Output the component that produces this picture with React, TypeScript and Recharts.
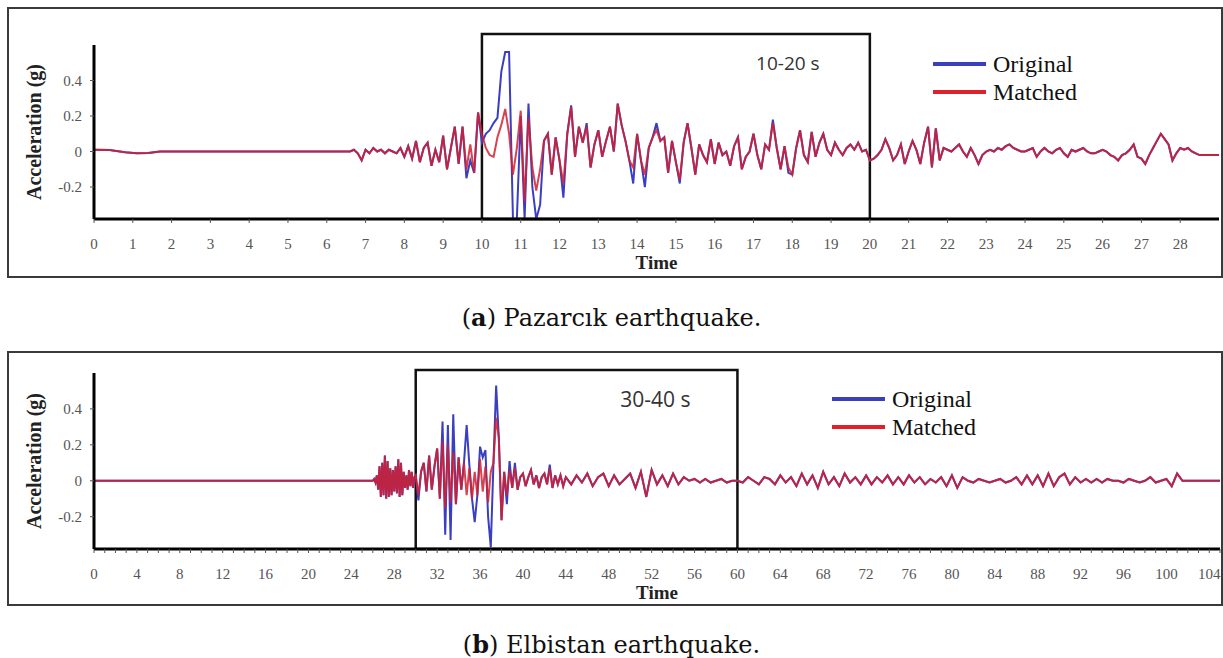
import React from 'react'
import { LineChart, Line, XAxis, YAxis, ReferenceArea, Legend } from 'recharts'

// ---- shared axis values ----
const yTicks = [-0.2, 0, 0.2, 0.4]
const yDomain = [-0.38, 0.6]

// ---- (a) Pazarcık : time 0-29 s ----
const ticksA = [0, 1, 2, 3, 4, 5, 6, 7, 8, 9, 10, 11, 12, 13, 14, 15, 16, 17, 18, 19, 20, 21, 22, 23, 24, 25, 26, 27, 28]
const quietA = [[0, 0.01], [0.4, 0.008], [0.8, -0.004], [1.1, -0.01], [1.4, -0.008], [1.7, 0], [6.5, 0]]
const startA = 6.6
const stepA = 0.1
// matched record, one row per second (10 samples)
const matchedA = [
  0, 0.01, -0.01, -0.05,
  0.01, -0.01, 0.02, 0.0, 0.01, -0.01, 0.01, 0.0, -0.01, 0.02,
  -0.03, 0.03, -0.04, 0.06, -0.06, 0.02, 0.05, -0.08, 0.01, -0.06,
  0.09, -0.1, 0.02, 0.14, -0.07, 0.14, -0.1, 0.04, -0.12, 0.22,
  0.1, 0.02, -0.02, -0.03, 0.08, 0.15, 0.24, 0.1, -0.13, 0.02,
  0.23, -0.28, 0.19, -0.09, -0.22, -0.1, 0.06, 0.1, -0.13, 0.08,
  -0.05, -0.18, 0.1, 0.25, -0.03, 0.14, 0.05, 0.14, -0.09, 0.04,
  0.12, -0.03, 0.06, 0.14, 0.0, 0.27, 0.15, 0.06, -0.05, -0.09,
  0.1, -0.05, -0.13, 0.02, 0.08, 0.12, 0.06, 0.08, -0.12, 0.06,
  -0.06, -0.16, 0.05, 0.16, 0.02, -0.13, 0.04, -0.02, -0.06, 0.07,
  -0.07, 0.05, -0.02, 0.0, -0.08, 0.03, 0.08, -0.1, -0.03, 0.0,
  0.1, -0.02, -0.1, 0.04, 0.01, 0.16, 0.02, -0.1, 0.03, -0.09,
  -0.13, 0.02, 0.12, -0.02, -0.06, 0.11, -0.03, 0.05, 0.1, 0.01,
  -0.02, 0.05, 0.01, -0.02, 0.02, 0.04, 0.01, 0.05, 0.0, 0.01,
  -0.05, -0.04, -0.02, 0.01, 0.07, 0.02, -0.05, -0.02, 0.04, -0.07,
  0.0, 0.06, 0.01, -0.07, 0.05, 0.14, -0.09, 0.13, -0.05, 0.02,
  0.01, 0.0, 0.02, 0.04, 0.0, -0.03, 0.02, -0.02, -0.07, -0.02,
  0.0, 0.01, 0.0, 0.02, 0.01, 0.03, 0.04, 0.02, 0.01, 0.0,
  0.0, 0.01, 0.02, -0.03, 0.0, 0.02, 0.0, -0.01, 0.01, 0.02,
  -0.01, -0.03, 0.01, 0.0, 0.01, 0.02, 0.0, -0.01, -0.01, 0.0,
  0.01, 0.0, -0.02, -0.03, -0.05, -0.02, -0.01, 0.01, 0.04, -0.03,
  -0.04, -0.07, -0.02, 0.02, 0.06, 0.1, 0.07, 0.04, -0.05, -0.01,
  0.02, 0.01, 0.02, 0.0, -0.01, -0.02, -0.02, -0.02, -0.02, -0.02,
  -0.02,
]
// original record where it differs from the matched one [time, g]
const originalA: [number, number][] = [
  [9.6, -0.15], [9.7, -0.05], [10.0, 0.05], [10.1, 0.1], [10.2, 0.12], [10.3, 0.16], [10.4, 0.19],
  [10.5, 0.45], [10.6, 0.56], [10.7, 0.56], [10.8, -0.38], [10.9, -0.38], [11.0, 0.2], [11.1, -0.38],
  [11.2, 0.27], [11.3, -0.2], [11.4, -0.38], [11.5, -0.3], [12.1, -0.26], [12.3, 0.26], [12.7, 0.16],
  [13.9, -0.18], [14.2, -0.2], [14.5, 0.16], [15.1, -0.18], [17.5, 0.18], [17.9, -0.12],
]

// ---- (b) Elbistan : time 0-105 s ----
const labelsB = [0, 4, 8, 12, 16, 20, 24, 28, 32, 36, 40, 44, 48, 52, 56, 60, 64, 68, 72, 76, 80, 84, 88, 92, 96, 100, 104]
const ticksB = Array.from({ length: 106 }, (_, i) => i)
const quietB = [[0, 0]]
// first arrivals, 8 samples per second
const startB0 = 26
const stepB0 = 0.125
const matchedB0 = [
  0, 0.01, -0.01, 0.03, -0.05, 0.08, -0.09, 0.1,
  -0.08, 0.14, -0.1, 0.11, -0.09, 0.07, -0.08, 0.06,
  -0.06, 0.08, -0.07, 0.12, -0.09, 0.1, -0.08, 0.05,
  -0.04, 0.03, -0.05, 0.06, -0.03, 0.05, -0.04, 0.02,
]
// strong motion, 4 samples per second
const startB1 = 30
const stepB1 = 0.25
const matchedB1 = [
  0.03, -0.08, 0.05, 0.1,
  -0.06, 0.14, -0.05, 0.08,
  0.18, -0.1, 0.22, -0.15,
  0.2, -0.12, 0.16, -0.13,
  0.13, -0.05, 0.1, -0.08,
  0.07, -0.1, 0.05, -0.08,
  0.12, -0.06, 0.08, -0.12,
  0.05, 0.1, 0.35, 0.24,
  -0.22, 0.05, -0.08, 0.06,
  -0.04, 0.07, -0.05, 0.02,
  0.04, -0.03, 0.02, 0.06,
  -0.02, 0.03, -0.04, 0.02,
  0.04, -0.02, 0.07, -0.04,
  0.03, -0.02, 0.03, -0.03,
  0.02,
]
// coda, 2 samples per second
const startB2 = 44.5
const stepB2 = 0.5
const matchedB2 = [
  -0.02,
  0.03, -0.01, 0.04, -0.03, 0.02, 0.04, -0.03, 0.03, -0.02, 0.01,
  0.04, -0.04, 0.05, -0.09, 0.06, -0.02, 0.03, -0.03, 0.04, -0.02,
  0.02, 0.0, 0.01, -0.01, 0.01, -0.01, 0.0, 0.01, -0.01, 0.0,
  0.0, -0.01, 0.02, 0.0, -0.02, 0.02, 0.01, -0.02, 0.03, -0.01,
  0.02, -0.03, 0.04, -0.02, 0.03, -0.04, 0.05, -0.02, 0.02, -0.03,
  0.04, -0.01, 0.02, -0.02, 0.03, -0.02, 0.02, -0.01, 0.03, -0.02,
  0.02, -0.02, 0.03, -0.01, 0.02, -0.02, 0.01, -0.01, 0.02, -0.03,
  0.03, -0.04, 0.02, 0.0, -0.01, 0.01, 0.0, -0.01, 0.0, 0.01,
  -0.01, 0.0, 0.02, -0.02, 0.03, -0.02, 0.03, -0.03, 0.04, -0.03,
  0.02, 0.04, -0.02, 0.02, -0.01, 0.01, -0.01, 0.01, -0.01, 0.01,
  0.0, 0.0, -0.01, 0.01, 0.0, -0.01, 0.0, 0.02, -0.01, 0.0,
  0.01, -0.03, 0.04, 0.0,
]
const tailB = [[105, 0]]
const originalB: [number, number][] = [
  [30.25, -0.11], [32.5, 0.33], [32.75, -0.3], [33.0, 0.31], [33.25, -0.33], [33.5, 0.37],
  [34.75, 0.31], [35.0, 0.09], [35.5, -0.23], [36.0, 0.19], [36.25, 0.13], [36.5, 0.17],
  [36.75, -0.2], [37.0, -0.37], [37.5, 0.53], [38.5, -0.13], [38.75, 0.11], [39.25, 0.1], [42.5, 0.09],
]

type Row = { t: number; matched: number; original: number }

function buildRows(quiet: number[][], segments: [number, number, number[]][], tail: number[][], diff: [number, number][]) {
  const orig = new Map(diff)
  const rows: Row[] = []
  quiet.forEach(([t, v]) => rows.push({ t, matched: v, original: v }))
  segments.forEach(([start, step, values]) => {
    values.forEach((v, i) => {
      const t = +(start + i * step).toFixed(3)
      rows.push({ t, matched: v, original: orig.has(t) ? (orig.get(t) as number) : v })
    })
  })
  tail.forEach(([t, v]) => rows.push({ t, matched: v, original: v }))
  return rows
}

const rowsA = buildRows(quietA, [[startA, stepA, matchedA]], [], originalA)
const rowsB = buildRows(quietB, [[startB0, stepB0, matchedB0], [startB1, stepB1, matchedB1], [startB2, stepB2, matchedB2]], tailB, originalB)

const serif = '"Liberation Serif", "Times New Roman", serif'
const captionFont = '"DejaVu Serif", serif'

function LegendBox() {
  const row = (color: string, text: string) => (
    <div style={{ display: 'flex', alignItems: 'center', height: 28 }}>
      <div style={{ width: 53, height: 4, background: color, marginRight: 7 }} />
      <span style={{ fontFamily: serif, fontSize: 24, color: '#111' }}>{text}</span>
    </div>
  )
  return (
    <div>
      {row('#3a3fc0', 'Original')}
      {row('#e0202c', 'Matched')}
    </div>
  )
}

function Panel({ rows, xMax, xTicks, tickFmt, box, boxTop, boxLabel, top, height, margin, legend }: any) {
  return (
    <div style={{ position: 'absolute', left: 0, top, width: 1223, height }}>
      <LineChart width={1223} height={height} data={rows} margin={margin}>
        <XAxis dataKey="t" type="number" domain={[0, xMax]} ticks={xTicks} interval={0} allowDataOverflow
          height={40} axisLine={{ stroke: '#000', strokeWidth: 3 }} tickLine={{ stroke: '#555' }}
          tickSize={4} tickMargin={15} tickFormatter={tickFmt}
          tick={{ fill: '#555', fontSize: 15, fontFamily: serif }}
          label={(p: any) => (
            <text x={p.viewBox.x + p.viewBox.width / 2} y={p.viewBox.y + 50} textAnchor="middle"
              fontFamily={serif} fontWeight="bold" fontSize={19} fill="#222">Time</text>
          )} />
        <YAxis type="number" domain={yDomain} ticks={yTicks} allowDataOverflow width={50}
          axisLine={{ stroke: '#000', strokeWidth: 3 }} tickLine={{ stroke: '#555' }}
          tickSize={4} tickMargin={8}
          tickFormatter={(v: number) => String(v)}
          tick={{ fill: '#555', fontSize: 15, fontFamily: serif }}
          label={(p: any) => {
            const cy = p.viewBox.y + p.viewBox.height / 2
            return (
              <text x={34} y={cy} transform={`rotate(-90, 34, ${cy})`} textAnchor="middle"
                dominantBaseline="central" fontFamily={serif} fontWeight="bold" fontSize={20} fill="#222">
                Acceleration (g)
              </text>
            )
          }} />
        <ReferenceArea x1={box[0]} x2={box[1]} y1={yDomain[0]} y2={boxTop} ifOverflow="visible"
          fill="none" stroke="#111" strokeWidth={2.5}
          label={(p: any) => (
            <text x={p.viewBox.x + p.viewBox.width - 82} y={p.viewBox.y + 29} textAnchor="middle"
              dominantBaseline="central" fontFamily='"Open Sans", sans-serif' fontSize={boxLabel.size} fill="#333">
              {boxLabel.text}
            </text>
          )} />
        <Legend layout="horizontal" verticalAlign="middle" align="center" content={() => <LegendBox />}
          wrapperStyle={{ left: legend[0], top: legend[1], width: 'auto', height: 'auto' }} />
        <Line dataKey="original" stroke="#3a3fc0" strokeWidth={2} dot={false} isAnimationActive={false} />
        <Line dataKey="matched" stroke="#d42030" strokeOpacity={0.85} strokeWidth={2} dot={false} isAnimationActive={false} />
      </LineChart>
    </div>
  )
}

export default function App() {
  return (
    <div style={{ position: 'absolute', left: 0, top: 0, width: 1223, height: 658, background: '#fff' }}>
      <div style={{ position: 'absolute', left: 7, top: 7, width: 1216, height: 271, border: '2px solid #3a3a3a', boxSizing: 'border-box' }} />
      <Panel rows={rowsA} xMax={29} xTicks={ticksA} tickFmt={(v: number) => String(v)} box={[10, 20]} boxTop={0.662}
        boxLabel={{ text: '10-20 s', size: 19 }} top={0} height={280}
        margin={{ top: 45, left: 44, right: 4, bottom: 21 }} legend={[933, 50]} />
      <div style={{ position: 'absolute', left: 0, top: 303, width: 1223, textAlign: 'center', fontFamily: captionFont, fontSize: 24, lineHeight: '30px', color: '#111' }}>
        (<b>a</b>) Pazarcık earthquake.
      </div>
      <div style={{ position: 'absolute', left: 7, top: 351, width: 1216, height: 255, border: '2px solid #3a3a3a', boxSizing: 'border-box' }} />
      <Panel rows={rowsB} xMax={105} xTicks={ticksB} tickFmt={(v: number) => (labelsB.includes(v) ? String(v) : '')}
        box={[30, 60]} boxTop={0.617}
        boxLabel={{ text: '30-40 s', size: 21 }} top={330} height={280}
        margin={{ top: 43, left: 44, right: 3, bottom: 21 }} legend={[832, 55]} />
      <div style={{ position: 'absolute', left: 0, top: 630, width: 1223, textAlign: 'center', fontFamily: captionFont, fontSize: 24, lineHeight: '30px', color: '#111' }}>
        (<b>b</b>) Elbistan earthquake.
      </div>
    </div>
  )
}
